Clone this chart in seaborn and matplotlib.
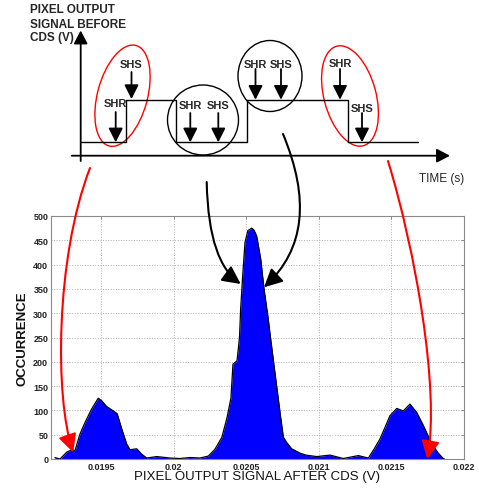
import matplotlib
matplotlib.use("Agg")
import matplotlib.pyplot as plt
import seaborn as sns
from matplotlib.patches import Ellipse, FancyArrowPatch
from matplotlib.path import Path

# histogramme du signal pixel apres CDS
signal_v = [0.019183, 0.019218, 0.019264, 0.019298, 0.019321, 0.019355, 0.019390,
            0.019436, 0.019481, 0.019505, 0.019539, 0.019585, 0.019612, 0.019643,
            0.019677, 0.019700, 0.019746, 0.019780, 0.019815, 0.019884, 0.019975,
            0.020044, 0.020113, 0.020182, 0.020239, 0.020285, 0.020333, 0.020368,
            0.020395, 0.020409, 0.020437, 0.020454, 0.020462, 0.020476, 0.020492,
            0.020512, 0.020538, 0.020554, 0.020572, 0.020600, 0.020623, 0.020652,
            0.020664, 0.020698, 0.020733, 0.020756, 0.020779, 0.020813, 0.020871,
            0.020912, 0.020986, 0.021077, 0.021169, 0.021272, 0.021341, 0.021380,
            0.021421, 0.021456, 0.021490, 0.021537, 0.021582, 0.021628, 0.021674,
            0.021720, 0.021778, 0.021823, 0.021857, 0.021866]
occurrence = [3, 0, 14, 19, 17, 51, 75,
              103, 125, 120, 108, 99, 93, 62,
              31, 19, 21, 10, 2, 5, 2,
              1, 3, 2, 6, 20, 45, 85,
              125, 195, 202, 250, 309, 377, 446,
              470, 475, 471, 459, 412, 350, 288,
              258, 178, 96, 45, 34, 21, 12,
              8, 5, 8, 1, 7, 2, 20,
              41, 65, 89, 104, 99, 113, 96,
              69, 31, 12, 1, 0]

x_ticks = [0.0195, 0.02, 0.0205, 0.021, 0.0215, 0.022]
x_tick_labels = ["0.0195", "0.02", "0.0205", "0.021", "0.0215", "0.022"]
y_ticks = list(range(0, 501, 50))

title_lines = ["PIXEL OUTPUT", "SIGNAL BEFORE", "CDS (V)"]
time_label = "TIME (s)"

sns.set_theme(style="white")
plt.rcParams["font.family"] = ["Liberation Sans", "DejaVu Sans"]

fig = plt.figure(figsize=(4.79, 4.89), dpi=100)

# ---- histogramme ----
ax = fig.add_axes([51 / 479, 1 - 460 / 489, 413 / 479, 243 / 489])
ax.fill_between(signal_v, occurrence, 0, color="#0000ff", lw=0)
sns.lineplot(x=signal_v, y=occurrence, color="black", lw=0.9, ax=ax,
             sort=False, estimator=None)
ax.set_xlim(0.019156, 0.022)
ax.set_ylim(0, 500)
ax.set_xticks(x_ticks, x_tick_labels)
ax.set_yticks(y_ticks)
ax.grid(True, ls=":", color="#b0b0b0", lw=0.7)
ax.tick_params(direction="in", length=2.5, width=0.6, top=True, right=True,
               labelsize=6.5, color="#808080", labelcolor="#222222", pad=2)
for lab in ax.get_xticklabels() + ax.get_yticklabels():
    lab.set_fontweight("bold")
for sp in ax.spines.values():
    sp.set_color("#8a8a8a")
    sp.set_linewidth(0.8)
ax.set_xlabel("PIXEL OUTPUT SIGNAL AFTER CDS (V)", fontsize=9.5, color="#111111")
ax.xaxis.set_label_coords(0.5, -0.045)
ax.set_ylabel("OCCURRENCE", fontsize=9.5, fontweight="bold", color="#111111")
ax.yaxis.set_label_coords(-0.055, 0.5)

# ---- schema + fleches (repere en pixels) ----
ov = fig.add_axes([0, 0, 1, 1], zorder=5)
ov.set_xlim(0, 479)
ov.set_ylim(489, 0)
ov.axis("off")
ov.patch.set_alpha(0)


def fleche(p0, p1, color="black", lw=1.3, hl=7.5, hw=4):
    ov.add_patch(FancyArrowPatch(p0, p1, arrowstyle=f"-|>,head_length={hl},head_width={hw}",
                                 mutation_scale=1, lw=lw, color=color,
                                 shrinkA=0, shrinkB=0))


def courbe(pts, color, lw=1.5):
    path = Path(pts, [Path.MOVETO, Path.CURVE4, Path.CURVE4, Path.CURVE4])
    ov.add_patch(FancyArrowPatch(path=path, arrowstyle="-|>,head_length=11,head_width=5.5",
                                 mutation_scale=1, lw=lw, color=color))


for txt, yb in zip(title_lines, [13.3, 28.3, 40.7]):
    ov.text(30, yb, txt, fontsize=8.5, fontweight="bold", va="baseline", ha="left")
ov.text(419, 181.7, time_label, fontsize=8.5, va="baseline", ha="left")

# axes du chronogramme
fleche((80.7, 162), (80.7, 31.5), lw=1.3, hl=8, hw=4.2)
fleche((71.7, 156.7), (450, 156.7), lw=1.3, hl=8, hw=4.2)

# signal
ov.plot([80.7, 125.7, 125.7, 175.7, 175.7, 246.7, 246.7, 347.7, 347.7, 418.3],
        [143.3, 143.3, 100.7, 100.7, 143.3, 143.3, 100.7, 100.7, 143.3, 143.3],
        color="black", lw=1.0)

# impulsions d'echantillonnage
pulses = [("SHS", 131.5, 68.3, 73, 100), ("SHR", 115.7, 107.3, 113, 143.3),
          ("SHR", 190.3, 109.3, 114, 143.3), ("SHS", 218.3, 109.3, 114, 143.3),
          ("SHR", 255.5, 68.3, 70, 100.7), ("SHS", 281, 68.3, 70, 100.7),
          ("SHR", 340, 66.7, 70, 100.7), ("SHS", 362, 111.7, 114, 143.3)]
for lab, x, yb, y0, y1 in pulses:
    ov.text(x, yb, lab, fontsize=8, fontweight="bold", ha="center", va="baseline")
    fleche((x, y0), (x, y1), lw=1.3, hl=8.5, hw=4.3)

ov.add_patch(Ellipse((122.5, 96.7), 50, 104, angle=15, fill=False, ec="red", lw=1.0))
ov.add_patch(Ellipse((350, 97), 52, 103, angle=-15, fill=False, ec="red", lw=1.0))
ov.add_patch(Ellipse((203, 121), 71, 70, fill=False, ec="black", lw=1.0))
ov.add_patch(Ellipse((270, 77), 64, 71, fill=False, ec="black", lw=1.0))

# fleches vers l'histogramme
courbe([(90, 169), (55, 260), (55, 400), (73.3, 453.5)], "red")
courbe([(388, 162), (415, 250), (440, 390), (427.3, 460)], "red")
courbe([(206.7, 183), (208, 240), (220, 270), (240.7, 285)], "black")
courbe([(283, 135), (310, 200), (305, 250), (264, 288.3)], "black")

fig.savefig("out.png", dpi=100)
